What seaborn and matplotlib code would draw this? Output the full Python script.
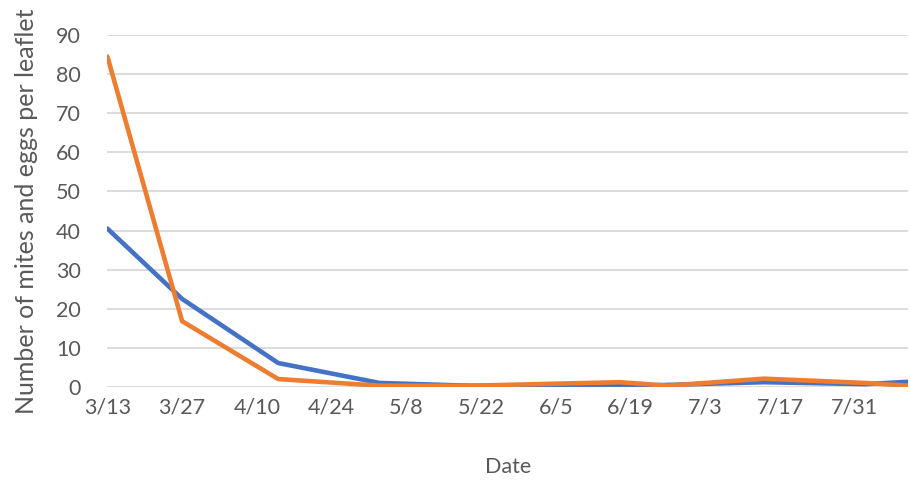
import pandas as pd
import seaborn as sns
import matplotlib
matplotlib.use("Agg")
import matplotlib.pyplot as plt
import matplotlib.dates as mdates

# sampling dates and counts
dates = ["2019-03-13", "2019-03-27", "2019-04-14", "2019-05-03", "2019-05-20",
         "2019-06-17", "2019-06-26", "2019-07-14", "2019-08-02", "2019-08-10"]
series_a = [40.5, 22.5, 6.1, 1.0, 0.3, 0.3, 0.5, 1.2, 0.7, 1.3]
series_b = [84.5, 16.8, 2.0, 0.3, 0.3, 1.2, 0.3, 2.1, 1.0, 0.3]
tick_start = "2019-03-13"
n_ticks = 11

df = pd.DataFrame({"date": pd.to_datetime(dates), "Series1": series_a, "Series2": series_b})
long = df.melt(id_vars="date", var_name="series", value_name="count")

sns.set_style("white")
plt.rcParams["font.family"] = ["Lato", "DejaVu Sans"]

fig, ax = plt.subplots(figsize=(9.1, 4.8), dpi=100)
fig.subplots_adjust(left=0.118, right=0.998, bottom=0.194, top=0.927)

sns.lineplot(data=long, x="date", y="count", hue="series",
             palette={"Series1": "#4472C4", "Series2": "#ED7D31"},
             linewidth=3.3, legend=False, ax=ax)

ax.set_ylim(0, 90)
ax.set_yticks(range(0, 91, 10))
ax.set_xlim(df.date.min(), df.date.max())
ax.set_xticks(pd.date_range(tick_start, periods=n_ticks, freq="14D"))
ax.xaxis.set_major_formatter(plt.FuncFormatter(
    lambda v, p: f"{mdates.num2date(v).month}/{mdates.num2date(v).day}"))

ax.grid(axis="y", color="#D9D9D9", linewidth=1.3)
ax.set_axisbelow(True)
sns.despine(left=True, bottom=True)
ax.tick_params(length=0, labelsize=15.5, colors="#595959")
ax.tick_params(axis="y", pad=19)
ax.tick_params(axis="x", pad=8)

ax.set_xlabel("Date", fontsize=15.5, color="#595959", labelpad=28)
ax.set_ylabel("Number of mites and eggs per leaflet", fontsize=18, color="#595959", labelpad=13)

plt.savefig("out.png")
